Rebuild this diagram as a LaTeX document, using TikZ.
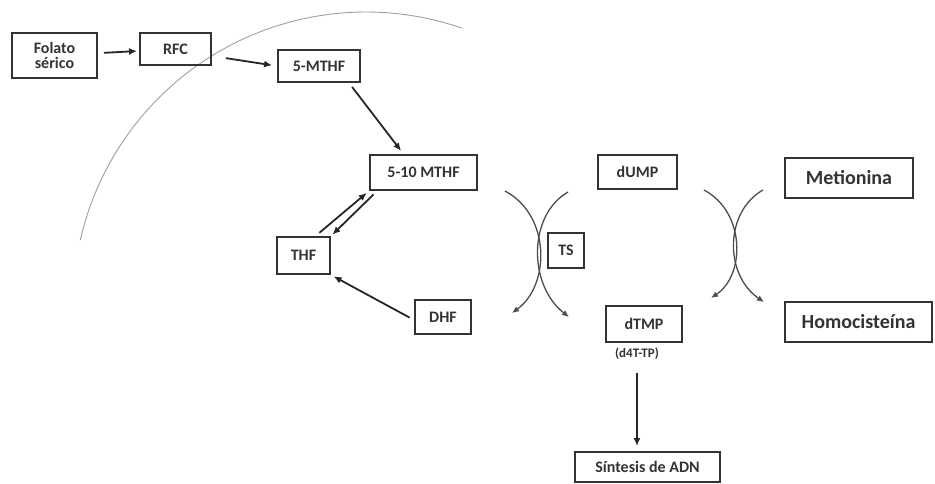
\documentclass[tikz,border=0pt]{standalone}
\usepackage{fontspec}
\setmainfont{Carlito}
\usetikzlibrary{arrows.meta}
\begin{document}
\begin{tikzpicture}[x=1pt,y=-1pt,
  box/.style={draw=black!80, line width=1.9pt, inner sep=0pt, text=black!80,
    font=\bfseries\fontsize{16}{18}\selectfont, align=center},
  bigbox/.style={box, font=\bfseries\fontsize{20}{22}\selectfont},
  arr/.style={draw=black!85, line width=1.8pt, -{Latex[length=8pt,width=7pt]}},
  curv/.style={draw=black!70, line width=1.3pt, -{Latex[length=7pt,width=6pt]}}]
\useasboundingbox (0,0) rectangle (935,483);
% arc (cell membrane)
\draw[gray!75, line width=0.9pt] plot[domain=-167.2:-70.9, samples=120] ({366+293*cos(\x)},{305+293*sin(\x)});
% nodes
\node[box, minimum width=85pt, minimum height=45pt] (folato) at (54.5,55.5) {Folato\\[-3pt]sérico};
\node[box, minimum width=71pt, minimum height=32pt] (rfc) at (175.5,49) {RFC};
\node[box, minimum width=82pt, minimum height=32pt] (mthf5) at (319,66) {5-MTHF};
\node[box, minimum width=107pt, minimum height=35pt] (mthf510) at (423.5,172.5) {5-10 MTHF};
\node[box, minimum width=53pt, minimum height=37pt] (thf) at (303.5,255.5) {THF};
\node[box, minimum width=56pt, minimum height=34pt] (dhf) at (443,317) {DHF};
\node[box, line width=2.8pt, minimum width=36pt, minimum height=35pt] (ts) at (566,250.5) {TS};
\node[box, minimum width=79pt, minimum height=34pt] (dump) at (637.5,172) {dUMP};
\node[bigbox, minimum width=128pt, minimum height=40pt] (met) at (849,178) {Metionina};
\node[bigbox, minimum width=147pt, minimum height=40pt] (homo) at (858.5,322) {Homocisteína};
\node[box, minimum width=76pt, minimum height=36pt] (dtmp) at (644,324) {dTMP};
\node[text=black!80, font=\bfseries\fontsize{13}{15}\selectfont, inner sep=1pt] (d4t) at (637,354) {(d4T-TP)};
\node[box, minimum width=145pt, minimum height=30pt] (sint) at (647.5,467) {Síntesis de ADN};
% straight arrows
\draw[arr, shorten <=6pt, shorten >=2pt] (folato) -- (rfc);
\draw[arr, shorten <=14pt, shorten >=5pt] ([yshift=-7pt]rfc.east) -- (mthf5.west);
\draw[arr, shorten <=5pt, shorten >=4pt] ([xshift=30pt]mthf5.south) -- ([xshift=-20pt]mthf510.north);
\draw[arr, shorten <=5pt, shorten >=3pt] ([xshift=12pt]thf.north) -- (mthf510.south west);
\draw[arr, shorten <=5pt, shorten >=2pt] ([xshift=8pt]mthf510.south west) -- (thf.north east);
\draw[arr, shorten <=5pt, shorten >=3pt] ([yshift=-3pt]dhf.west) -- (thf.south east);
\draw[arr, shorten <=12pt, shorten >=5pt] (d4t.south) -- (d4t.south |- sint.north);
% crossing curved arrows (TS)
\coordinate (a1) at (505,191);
\coordinate (a2) at (512,313);
\coordinate (b1) at (568,192);
\coordinate (b2) at (569,317);
\draw[curv] (a1) .. controls (550.5,215) and (550.5,285) .. (a2);
\draw[curv] (b1) .. controls (528,215) and (528,285) .. (b2);
% crossing curved arrows (methionine)
\coordinate (c1) at (704,190);
\coordinate (c2) at (711,298);
\coordinate (d1) at (763,190);
\coordinate (d2) at (764,302);
\draw[curv] (c1) .. controls (745.5,212) and (745.5,275) .. (c2);
\draw[curv] (d1) .. controls (724.3,212) and (724.3,275) .. (d2);
\end{tikzpicture}
\end{document}
